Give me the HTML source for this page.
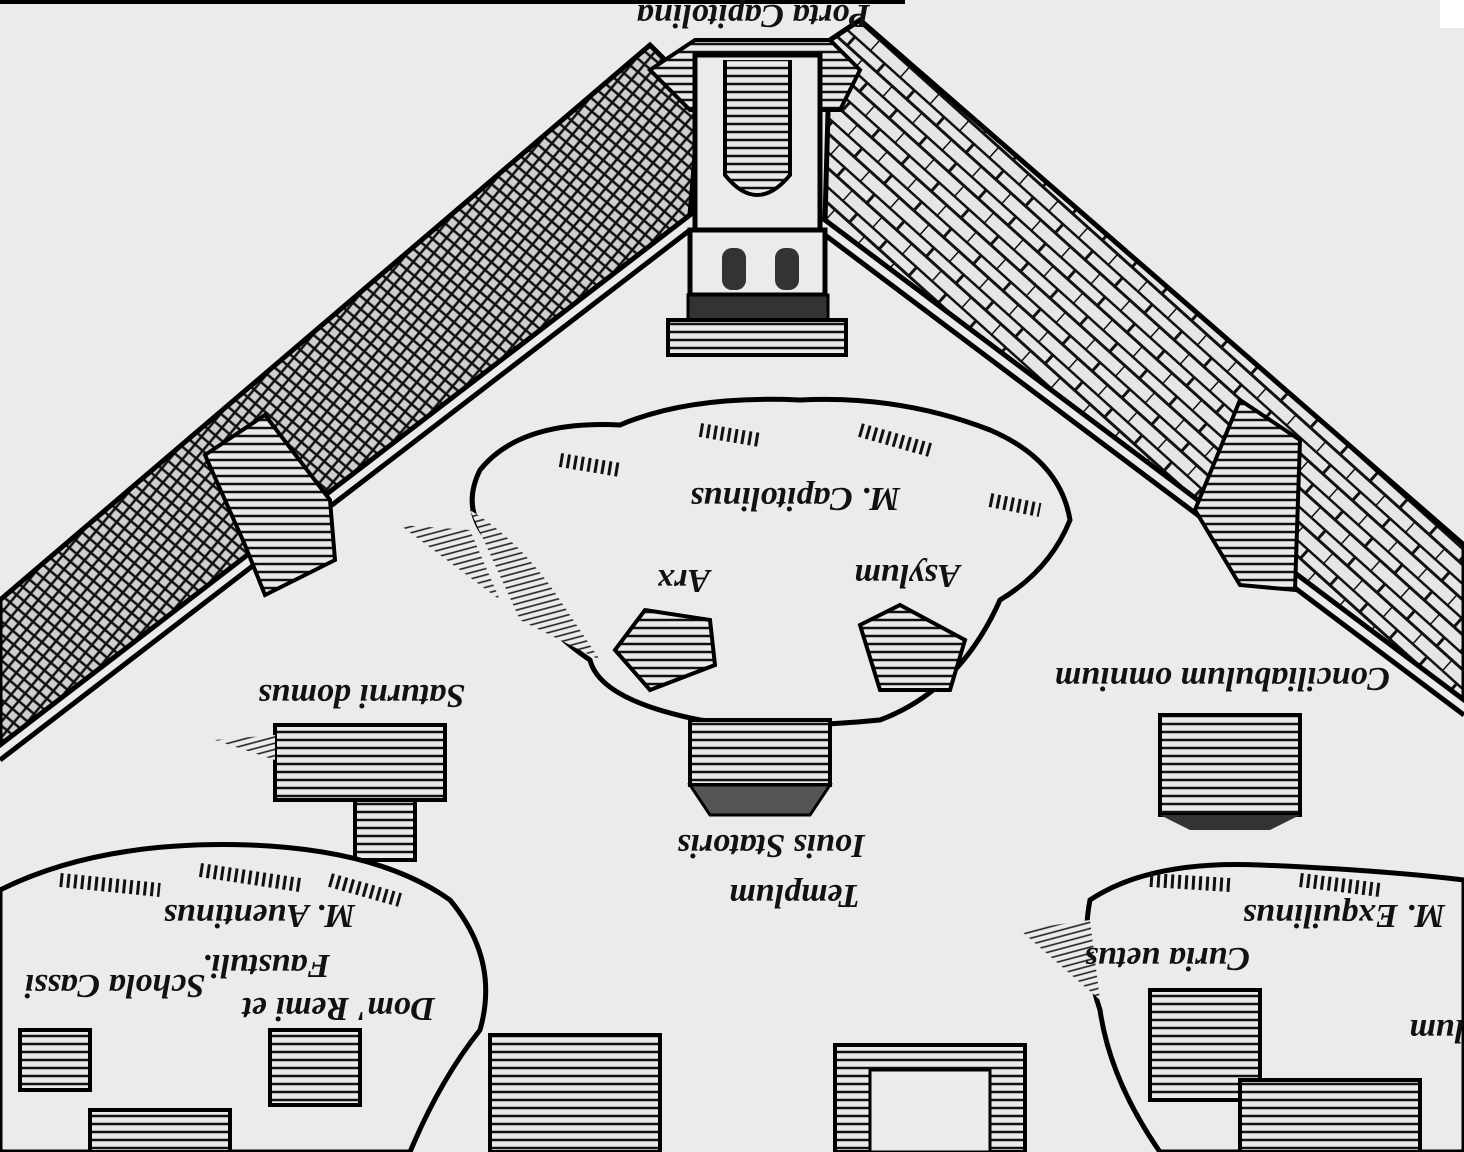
<!DOCTYPE html>
<html><head><meta charset="utf-8"><style>
html,body{margin:0;padding:0;background:#ebebeb;}
svg{display:block}
text{font-family:"Liberation Serif",serif;font-style:italic;font-weight:bold;fill:#111}
</style></head><body>
<svg width="1464" height="1152" viewBox="0 0 1464 1152" xmlns="http://www.w3.org/2000/svg">
<defs>
<pattern id="h" width="8" height="8" patternUnits="userSpaceOnUse"><rect width="8" height="8" fill="#ebebeb"/><path d="M0 4H8" stroke="#111" stroke-width="2.5"/></pattern>
<pattern id="x" width="10" height="10" patternUnits="userSpaceOnUse" patternTransform="rotate(40)"><rect width="10" height="10" fill="#cfcfcf"/><path d="M0 5H10M5 0V10" stroke="#111" stroke-width="2.5"/></pattern>
<pattern id="r" width="40" height="26" patternUnits="userSpaceOnUse" patternTransform="rotate(42)"><rect width="40" height="26" fill="#e6e6e6"/><path d="M0 1H40M20 1V13M0 13H40M0 13V26" stroke="#111" stroke-width="3"/></pattern>
<pattern id="sh" width="6" height="6" patternUnits="userSpaceOnUse" patternTransform="rotate(-15)"><rect width="6" height="6" fill="#ebebeb"/><path d="M0 3H6" stroke="#222" stroke-width="1.6"/></pattern>
</defs>
<rect width="1464" height="1152" fill="#ebebeb"/>
<line x1="0" y1="2" x2="905" y2="2" stroke="#000" stroke-width="4"/>
<rect x="1440" y="0" width="24" height="28" fill="#fff"/>
<polygon points="650,45 700,95 690,215 0,745 0,600" fill="url(#x)" stroke="#000" stroke-width="5"/>
<line x1="690" y1="230" x2="0" y2="760" stroke="#000" stroke-width="5"/>
<polygon points="205,455 265,415 330,500 335,560 265,595 245,545" fill="url(#h)" stroke="#000" stroke-width="4"/>
<polygon points="830,40 860,20 1464,545 1464,700 825,220" fill="url(#r)" stroke="#000" stroke-width="5"/>
<line x1="825" y1="235" x2="1464" y2="715" stroke="#000" stroke-width="5"/>
<polygon points="1195,510 1240,400 1300,440 1295,590 1240,585" fill="url(#h)" stroke="#000" stroke-width="4"/>
<polygon points="650,70 695,40 830,40 860,70 840,110 690,110" fill="url(#h)" stroke="#000" stroke-width="4"/>
<rect x="695" y="55" width="125" height="175" fill="#ebebeb" stroke="#000" stroke-width="5"/>
<path d="M725 60 V175 Q757 215 790 175 V60" fill="url(#h)" stroke="#000" stroke-width="4"/>
<rect x="690" y="230" width="135" height="65" fill="#ebebeb" stroke="#000" stroke-width="5"/>
<rect x="722" y="248" width="24" height="42" rx="10" fill="#333"/><rect x="775" y="248" width="24" height="42" rx="10" fill="#333"/>
<rect x="688" y="295" width="140" height="25" fill="#333" stroke="#000" stroke-width="3"/>
<rect x="668" y="320" width="178" height="35" fill="url(#h)" stroke="#000" stroke-width="4"/>
<path d="M480 470 Q520 420 620 425 Q690 395 800 400 Q900 395 990 430 Q1060 460 1070 520 Q1050 570 1000 600 Q960 690 880 720 Q780 730 700 720 Q600 700 590 660 Q530 620 510 560 Q455 520 480 470Z" fill="#ebebeb" stroke="#000" stroke-width="5"/>
<path d="M470 510 Q520 540 560 600 L600 660 L520 620Z M400 525 L470 530 L500 600Z" fill="url(#sh)"/>
<path d="M560 460 L620 470 M700 430 L760 440 M860 430 L930 450 M990 500 L1040 510" stroke="#111" stroke-width="14" stroke-dasharray="3 4"/>
<polygon points="615,650 645,610 710,620 715,665 650,690" fill="url(#h)" stroke="#000" stroke-width="4"/>
<polygon points="860,625 900,605 965,640 950,690 880,690" fill="url(#h)" stroke="#000" stroke-width="4"/>
<rect x="690" y="720" width="140" height="65" fill="url(#h)" stroke="#000" stroke-width="4"/>
<polygon points="690,785 830,785 810,815 710,815" fill="#555" stroke="#000" stroke-width="3"/>
<rect x="275" y="725" width="170" height="75" fill="url(#h)" stroke="#000" stroke-width="4"/>
<rect x="355" y="800" width="60" height="60" fill="url(#h)" stroke="#000" stroke-width="4"/>
<path d="M215 740 L275 735 L275 760Z" fill="url(#sh)"/>
<rect x="1160" y="715" width="140" height="100" fill="url(#h)" stroke="#000" stroke-width="4"/>
<polygon points="1160,815 1300,815 1270,830 1190,830" fill="#333"/>
<path d="M0 890 Q100 840 250 845 Q380 850 450 900 Q500 960 480 1030 Q440 1080 410 1152 L0 1152Z" fill="#ebebeb" stroke="#000" stroke-width="5"/>
<path d="M60 880 L160 890 M200 870 L300 885 M330 880 L400 900" stroke="#111" stroke-width="14" stroke-dasharray="3 4"/>
<rect x="20" y="1030" width="70" height="60" fill="url(#h)" stroke="#000" stroke-width="4"/>
<rect x="270" y="1030" width="90" height="75" fill="url(#h)" stroke="#000" stroke-width="4"/>
<rect x="90" y="1110" width="140" height="42" fill="url(#h)" stroke="#000" stroke-width="4"/>
<rect x="490" y="1035" width="170" height="117" fill="url(#h)" stroke="#000" stroke-width="4"/>
<rect x="835" y="1045" width="190" height="107" fill="url(#h)" stroke="#000" stroke-width="4"/>
<rect x="870" y="1070" width="120" height="82" fill="#ebebeb" stroke="#000" stroke-width="3"/>
<path d="M1090 900 Q1150 860 1260 865 Q1380 870 1464 880 L1464 1152 L1160 1152 Q1110 1080 1100 1010 Q1080 950 1090 900Z" fill="#ebebeb" stroke="#000" stroke-width="5"/>
<path d="M1020 930 L1090 920 L1100 1000Z" fill="url(#sh)"/>
<path d="M1150 880 L1230 885 M1300 880 L1380 890" stroke="#111" stroke-width="14" stroke-dasharray="3 4"/>
<rect x="1150" y="990" width="110" height="110" fill="url(#h)" stroke="#000" stroke-width="4"/>
<rect x="1240" y="1080" width="180" height="72" fill="url(#h)" stroke="#000" stroke-width="4"/>
<g font-size="34">
<text transform="translate(870,5) rotate(180)">Porta Capitolina</text>
<text transform="translate(900,488) rotate(180)">M. Capitolinus</text>
<text transform="translate(960,565) rotate(180)">Asylum</text>
<text transform="translate(710,570) rotate(180)">Arx</text>
<text transform="translate(465,685) rotate(180)">Saturni domus</text>
<text transform="translate(1390,668) rotate(180)">Conciliabulum omnium</text>
<text transform="translate(865,835) rotate(180)">Iouis Statoris</text>
<text transform="translate(860,885) rotate(180)">Templum</text>
<text transform="translate(355,905) rotate(180)">M. Auentinus</text>
<text transform="translate(330,955) rotate(180)">Faustuli.</text>
<text transform="translate(435,998) rotate(180)">Dom' Remi et</text>
<text transform="translate(205,975) rotate(180)">Schola Cassi</text>
<text transform="translate(1445,905) rotate(180)">M. Exquilinus</text>
<text transform="translate(1250,948) rotate(180)">Curia uetus</text>
<text transform="translate(1464,1020) rotate(180)">lum</text>
</g>
</svg>
</body></html>
